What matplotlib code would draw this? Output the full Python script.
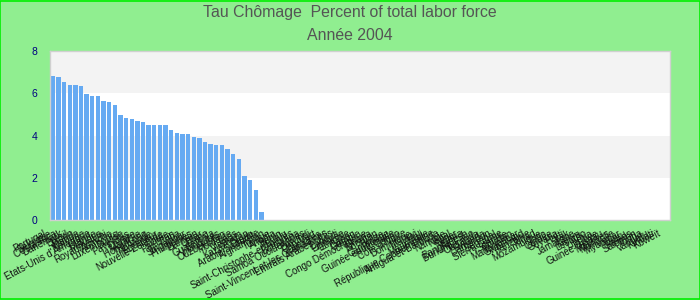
import numpy as np
import matplotlib
matplotlib.use("Agg")
import matplotlib.pyplot as plt
import matplotlib.transforms as mtransforms

title_line1 = "Tau Chômage  Percent of total labor force"
title_line2 = "Année 2004"

categories = [
    "Portugal", "Belgique", "Costa Rica", "Danemark", "Brésil", "Japon",
    "Irlande", "Norvège", "Etats-Unis d'Amérique", "Islande", "Mexique", "Royaume-Uni",
    "Autriche", "Luxembourg", "Suisse", "Pays-Bas", "Chypre", "Malaisie",
    "Hong Kong", "Thaïlande", "Equateur", "Nouvelle-Zélande", "Corée", "Pakistan",
    "Cuba", "Singapour", "Philippines", "Bahreïn", "Qatar", "Chine",
    "Guatemala", "Honduras", "Ouzbékistan", "Moldavie", "Laos", "Vietnam",
    "Kazakhstan", "Oman", "Arabie Saoudite", "Afghanistan", "Tunisie", "Angola",
    "Bénin", "Tuvalu", "Saint-Christophe-et-Niévès", "Botswana", "Samoa Occidentales", "Burundi",
    "Cap-Vert", "Comores", "Saint-Vincent-et-les Grenadines", "Emirats Arabes Unis", "Djibouti", "Erythrée",
    "Ethiopie", "Gabon", "Gambie", "Congo Démocratique", "Ghana", "Bhoutan",
    "Belize", "Cambodge", "Guinée équatoriale", "Congo", "Côte d'Ivoire", "Dominique",
    "Malawi", "Mali", "Mauritanie", "République Centrafricaine", "Antigua-et-Barbuda", "Namibie",
    "Népal", "Niger", "Nigeria", "Bangladesh", "Burkina Faso", "Ouganda",
    "Rwanda", "Cameroun", "Sénégal", "Sierra Leone", "Somalie", "Soudan",
    "Madagascar", "Swaziland", "Tanzanie", "Tchad", "Mozambique", "Togo",
    "Guinée", "Guyana", "Haïti", "Irak", "Jamaïque", "Kenya",
    "Lesotho", "Libéria", "Libye", "Guinée-Bissau", "Maldives", "Mongolie",
    "Myanmar", "Nauru", "Palaos", "Salomon", "Tonga", "Vanuatu",
    "Kiribati", "Koweït",
]

values = [
    6.81, 6.76, 6.52, 6.38, 6.38, 6.33, 5.95, 5.86, 5.86, 5.62,
    5.57, 5.43, 4.95, 4.81, 4.76, 4.71, 4.62, 4.52, 4.52, 4.48,
    4.48, 4.24, 4.10, 4.05, 4.05, 3.95, 3.90, 3.71, 3.62, 3.57,
    3.57, 3.38, 3.14, 2.90, 2.10, 1.90, 1.43, 0.38,
]

y_ticks = [0, 2, 4, 6, 8]

n = len(categories)
vals = np.full(n, np.nan)
vals[:len(values)] = values
x = np.arange(n)

plt.rcParams['font.family'] = ['Liberation Sans', 'DejaVu Sans']

fig = plt.figure(figsize=(7, 3), dpi=100, facecolor='#90ee90')
ax = fig.add_axes([50/700, 1-220/300, 620/700, 169/300])
ax.set_facecolor('white')

# alternating bands
for lo in (2, 6):
    ax.axhspan(lo, lo + 2, color='#f3f3f3', zorder=0, lw=0)

ax.bar(x, vals, width=0.78, color='#66aaf2', zorder=2)

ax.set_xlim(-0.5, n - 0.5)
ax.set_ylim(0, 8)
ax.set_yticks(y_ticks)
ax.set_yticklabels([str(t) for t in y_ticks], color='#000080', fontsize=7.5)
ax.tick_params(axis='y', length=0, pad=9)
ax.set_xticks(x)
ax.set_xticklabels(categories, rotation=28, ha='right', rotation_mode='anchor',
                   fontsize=6.9, color='#111111')
ax.tick_params(axis='x', length=0, pad=6)
offset = mtransforms.ScaledTranslation(-10/100, 0, fig.dpi_scale_trans)
for lab in ax.get_xticklabels():
    lab.set_transform(lab.get_transform() + offset)

for s in ax.spines.values():
    s.set_color('#d0d0d0')
    s.set_linewidth(1)

fig.text(0.5, 1 - 13/300, title_line1, ha='center', va='center', fontsize=11.4, color='#555555')
fig.text(0.5, 1 - 36/300, title_line2, ha='center', va='center', fontsize=11.4, color='#555555')

# green frame around the figure
fig.patches.append(plt.Rectangle((0.0007, 0.0017), 0.9986, 0.9966, transform=fig.transFigure,
                                 fill=False, edgecolor='#00ee00', linewidth=1.2))

fig.savefig('out.png', dpi=100, facecolor=fig.get_facecolor())
